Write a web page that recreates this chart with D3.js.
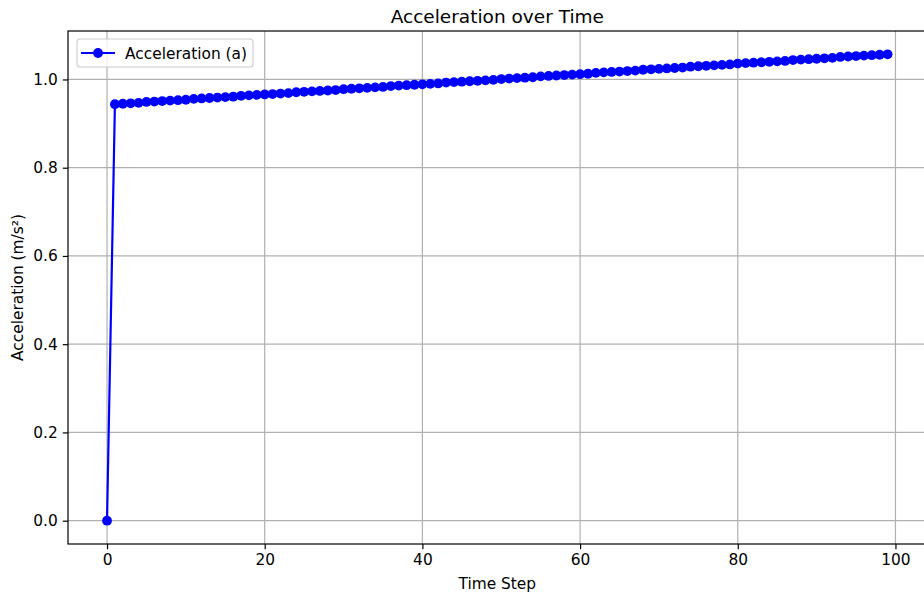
<!DOCTYPE html>
<html>
<head>
<meta charset="utf-8">
<script src="https://cdn.jsdelivr.net/npm/d3@7"></script>
<style>
  body { margin: 0; background: #fff; }
  svg { display: block; font-family: "DejaVu Sans", sans-serif; }
</style>
</head>
<body>
<script>
// Chart size
var width = 924;
var height = 593;

// Data: time step and acceleration
var timeSteps = d3.range(0, 100);
var acceleration = [
  0.000, 0.944, 0.945, 0.946, 0.947, 0.949, 0.950, 0.951, 0.952, 0.953,
  0.954, 0.956, 0.957, 0.958, 0.959, 0.960, 0.961, 0.963, 0.964, 0.965,
  0.966, 0.967, 0.968, 0.969, 0.971, 0.972, 0.973, 0.974, 0.975, 0.976,
  0.978, 0.979, 0.980, 0.981, 0.982, 0.983, 0.985, 0.986, 0.987, 0.988,
  0.989, 0.990, 0.991, 0.993, 0.994, 0.995, 0.996, 0.997, 0.998, 0.999,
  1.001, 1.002, 1.003, 1.004, 1.005, 1.007, 1.008, 1.009, 1.010, 1.011,
  1.012, 1.013, 1.015, 1.016, 1.017, 1.018, 1.019, 1.020, 1.022, 1.023,
  1.024, 1.025, 1.026, 1.027, 1.029, 1.030, 1.031, 1.032, 1.033, 1.034,
  1.036, 1.037, 1.038, 1.039, 1.040, 1.041, 1.042, 1.044, 1.045, 1.046,
  1.047, 1.048, 1.049, 1.051, 1.052, 1.053, 1.054, 1.055, 1.056, 1.057
];
var xTicks = [0, 20, 40, 60, 80, 100];
var yTicks = [0.0, 0.2, 0.4, 0.6, 0.8, 1.0];
var seriesName = "Acceleration (a)";

// Plot area (right spine falls just outside the window, as in the reference)
var plotLeft = 68, plotRight = 926.6, plotTop = 31, plotBottom = 544;
var tickFont = '15.4px';

var xPad = (d3.max(timeSteps) - d3.min(timeSteps)) * 0.05;
var yPad = (d3.max(acceleration) - d3.min(acceleration)) * 0.05;

var x = d3.scaleLinear()
  .domain([d3.min(timeSteps) - xPad, d3.max(timeSteps) + xPad])
  .range([plotLeft, plotRight]);

var y = d3.scaleLinear()
  .domain([d3.min(acceleration) - yPad, d3.max(acceleration) + yPad])
  .range([plotBottom, plotTop]);

var svg = d3.select('body').append('svg')
  .attr('width', width)
  .attr('height', height);

// Grid lines
svg.append('g').selectAll('line.vgrid')
  .data(xTicks)
  .enter().append('line')
  .attr('x1', function (d) { return x(d); })
  .attr('x2', function (d) { return x(d); })
  .attr('y1', plotTop)
  .attr('y2', plotBottom)
  .attr('stroke', '#b0b0b0')
  .attr('stroke-width', 1.2);

svg.append('g').selectAll('line.hgrid')
  .data(yTicks)
  .enter().append('line')
  .attr('x1', plotLeft)
  .attr('x2', plotRight)
  .attr('y1', function (d) { return y(d); })
  .attr('y2', function (d) { return y(d); })
  .attr('stroke', '#b0b0b0')
  .attr('stroke-width', 1.2);

// Axes
var xAxis = d3.axisBottom(x)
  .tickValues(xTicks)
  .tickFormat(d3.format('d'))
  .tickSize(5.2)
  .tickPadding(4.5);

var yAxis = d3.axisLeft(y)
  .tickValues(yTicks)
  .tickFormat(d3.format('.1f'))
  .tickSize(5.2)
  .tickPadding(5);

var gx = svg.append('g')
  .attr('transform', 'translate(0,' + plotBottom + ')')
  .call(xAxis);

var gy = svg.append('g')
  .attr('transform', 'translate(' + plotLeft + ',0)')
  .call(yAxis);

[gx, gy].forEach(function (g) {
  g.select('.domain').remove();
  g.selectAll('.tick line').attr('stroke', '#000').attr('stroke-width', 1.2);
  g.selectAll('.tick text')
    .attr('fill', '#000')
    .style('font-size', tickFont)
    .style('font-family', '"DejaVu Sans", sans-serif');
});

// Spines
svg.append('rect')
  .attr('x', plotLeft)
  .attr('y', plotTop)
  .attr('width', plotRight - plotLeft)
  .attr('height', plotBottom - plotTop)
  .attr('fill', 'none')
  .attr('stroke', '#000')
  .attr('stroke-width', 1.2);

// Line + markers
var points = timeSteps.map(function (t, i) { return { t: t, a: acceleration[i] }; });

var line = d3.line()
  .x(function (d) { return x(d.t); })
  .y(function (d) { return y(d.a); });

svg.append('path')
  .datum(points)
  .attr('d', line)
  .attr('fill', 'none')
  .attr('stroke', '#0000ff')
  .attr('stroke-width', 2.2);

svg.append('g').selectAll('circle')
  .data(points)
  .enter().append('circle')
  .attr('cx', function (d) { return x(d.t); })
  .attr('cy', function (d) { return y(d.a); })
  .attr('r', 4.9)
  .attr('fill', '#0000ff');

// Title and labels
svg.append('text')
  .attr('x', (plotLeft + plotRight) / 2)
  .attr('y', 23)
  .attr('text-anchor', 'middle')
  .style('font-size', '18.5px')
  .text('Acceleration over Time');

svg.append('text')
  .attr('x', (plotLeft + plotRight) / 2)
  .attr('y', 589)
  .attr('text-anchor', 'middle')
  .style('font-size', tickFont)
  .text('Time Step');

svg.append('text')
  .attr('transform', 'translate(23,' + (plotTop + plotBottom) / 2 + ') rotate(-90)')
  .attr('text-anchor', 'middle')
  .style('font-size', tickFont)
  .text('Acceleration (m/s²)');

// Legend
var legend = svg.append('g').attr('transform', 'translate(77,39)');
legend.append('rect')
  .attr('width', 176)
  .attr('height', 28)
  .attr('rx', 3)
  .attr('fill', '#fff')
  .attr('fill-opacity', 0.8)
  .attr('stroke', '#cccccc')
  .attr('stroke-width', 1.1);
legend.append('line')
  .attr('x1', 4).attr('x2', 38)
  .attr('y1', 14).attr('y2', 14)
  .attr('stroke', '#0000ff')
  .attr('stroke-width', 2.2);
legend.append('circle')
  .attr('cx', 21).attr('cy', 14).attr('r', 4.9)
  .attr('fill', '#0000ff');
legend.append('text')
  .attr('x', 48)
  .attr('y', 19.5)
  .style('font-size', tickFont)
  .text(seriesName);
</script>
</body>
</html>
